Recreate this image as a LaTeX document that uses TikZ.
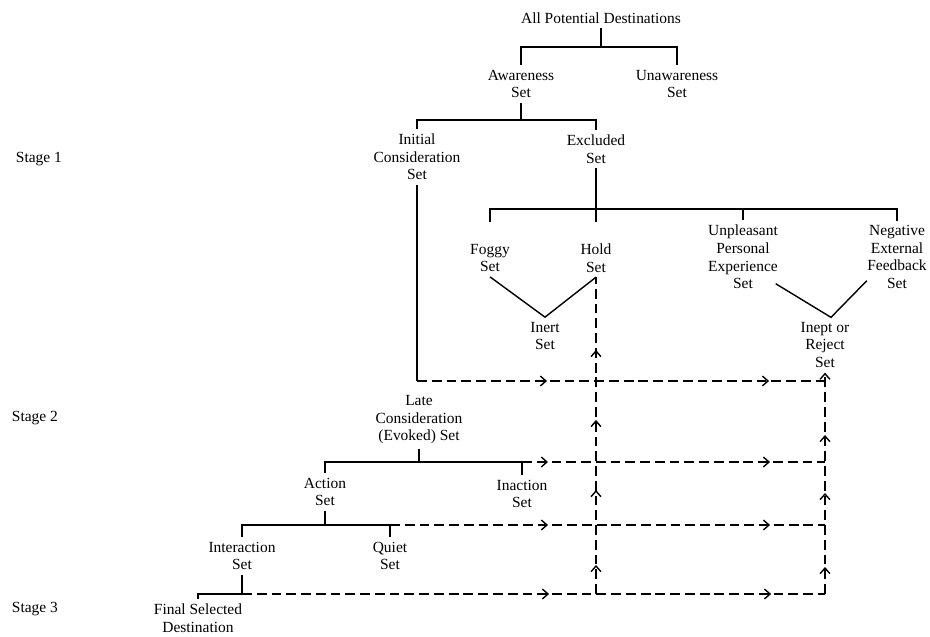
\documentclass[tikz,border=0pt]{standalone}
\usepackage{fontspec}
\setmainfont{Liberation Serif}
\usetikzlibrary{arrows.meta,decorations.markings}
\tikzset{
  setnode/.style={align=center,inner sep=3pt,font=\fontsize{11}{12.5}\selectfont},
  flow/.style={dash pattern=on 7pt off 3.5pt},
  tipat/.style={postaction={decorate,decoration={markings,
    mark=at position #1 with {\arrow{Straight Barb[length=4pt,width=7pt]}}}}},
}
\begin{document}
\begin{tikzpicture}[x=0.025cm,y=-0.025cm,line width=1pt]
\path[use as bounding box] (0,0) rectangle (930,637);
% stages
\node[setnode,anchor=west] (stage1) at (11,159) {Stage 1};
\node[setnode,anchor=west] (stage2) at (7,418) {Stage 2};
\node[setnode,anchor=west] (stage3) at (7,609) {Stage 3};
% sets
\node[setnode] (all) at (601,18) {All Potential Destinations};
\node[setnode] (aware) at (521,84) {Awareness\\Set};
\node[setnode] (unaware) at (677,84) {Unawareness\\Set};
\node[setnode] (initial) at (417,157) {Initial\\Consideration\\Set};
\node[setnode] (excluded) at (596,149) {Excluded\\Set};
\node[setnode] (foggy) at (490,258) {Foggy\\Set};
\node[setnode] (hold) at (596,258) {Hold\\Set};
\node[setnode] (inert) at (545,336) {Inert\\Set};
\node[setnode] (unpleasant) at (743,257) {Unpleasant\\Personal\\Experience\\Set};
\node[setnode] (negative) at (897,257) {Negative\\External\\Feedback\\Set};
\node[setnode] (inept) at (825,345) {Inept or\\Reject\\Set};
\node[setnode] (late) at (419,420) {Late\\Consideration\\(Evoked) Set};
\node[setnode] (action) at (325,492) {Action\\Set};
\node[setnode] (inaction) at (522,494) {Inaction\\Set};
\node[setnode] (interaction) at (242,556) {Interaction\\Set};
\node[setnode] (quiet) at (390,556) {Quiet\\Set};
\node[setnode] (final) at (198,618) {Final Selected\\Destination};
% stage 1 tree
\draw (all.south) -- (all.south |- 0,47);
\draw (aware.north) |- (unaware.north |- 0,47) -- (unaware.north);
\draw (aware.south) -- (aware.south |- 0,120);
\draw (initial.north) |- (excluded.north |- 0,120) -- (excluded.north);
\draw (excluded.south) -- ([yshift=0.42cm]hold.north);
\draw ([yshift=0.42cm]foggy.north) |- (negative.north |- 0,209) -- (negative.north);
\draw (unpleasant.north) -- (unpleasant.north |- 0,209);
\draw (foggy.south) -- (inert.north) -- (hold.south);
\draw ([xshift=-0.175cm,yshift=0.25cm]unpleasant.south east) -- ([xshift=0.15cm]inept.north)
  -- ([xshift=0.11cm,yshift=0.32cm]negative.south west);
% stage 2 and 3
\coordinate (j1) at (initial.south |- 0,381);
\draw (initial.south) -- (j1);
\draw[flow,tipat=3.25cm,tipat=8.8cm] (j1) -- (j1 -| inept.south);
\coordinate (j2) at (late.south |- 0,462);
\draw (late.south) -- (j2);
\draw (action.north) |- (inaction.north |- j2) -- (inaction.north);
\draw[flow,tipat=0.65cm,tipat=6.2cm] (inaction.north |- j2) -- (j2 -| inept.south);
\coordinate (j3) at (action.south |- 0,525);
\draw (action.south) -- (j3);
\draw (interaction.north) |- (quiet.north |- j3) -- (quiet.north);
\draw[flow,tipat=3.95cm,tipat=9.5cm] (quiet.north |- j3) -- (j3 -| inept.south);
\coordinate (j4) at (interaction.south |- 0,594);
\draw (interaction.south) -- (j4);
\draw (final.north) |- (j4);
\draw[flow,tipat=7.675cm,tipat=13.225cm] (j4) -- (j4 -| inept.south);
% feedback to hold and reject
\draw[flow,tipat=0.725cm,tipat=2.6cm,tipat=4.35cm,tipat=6.1cm] (j4 -| hold.south) -- (hold.south);
\draw[flow,tipat=0.675cm,tipat=2.525cm,tipat=3.975cm,-{Straight Barb[length=4pt,width=7pt]}]
  (j4 -| inept.south) -- (inept.south);
\end{tikzpicture}
\end{document}
